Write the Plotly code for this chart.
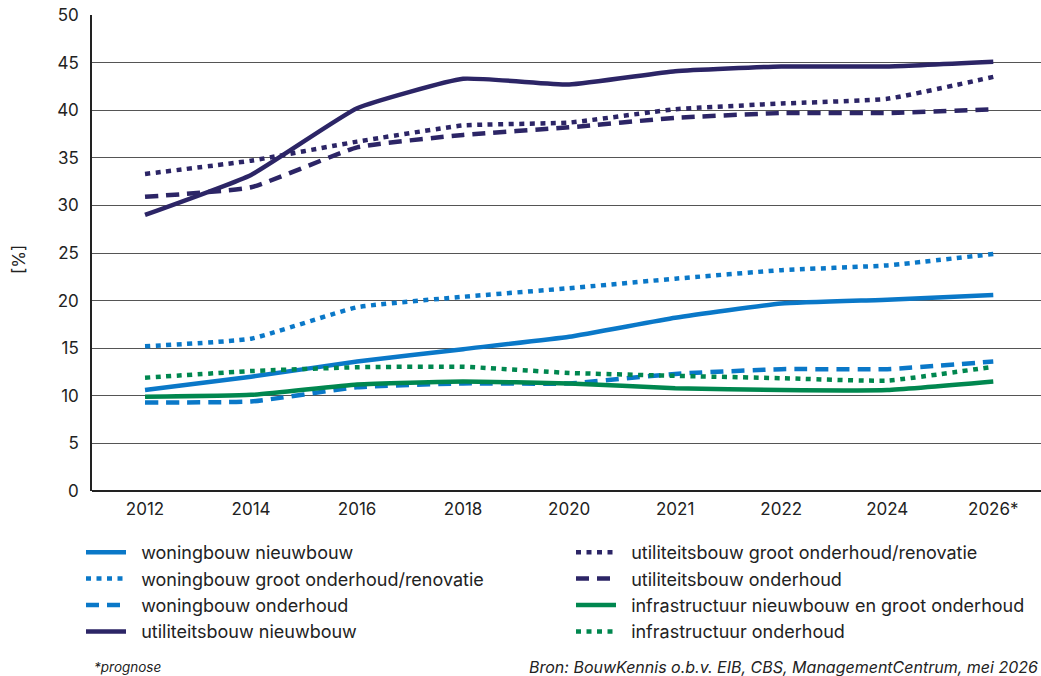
import plotly.graph_objects as go

# Jaren (2026 is een prognose)
jaren = ["2012", "2014", "2016", "2018", "2020", "2021", "2022", "2024", "2026*"]

# Aandeel per segment [%]
woningbouw_nieuwbouw = [10.6, 12.0, 13.6, 14.9, 16.2, 18.2, 19.7, 20.1, 20.6]
woningbouw_groot_onderhoud = [15.2, 16.0, 19.3, 20.4, 21.3, 22.3, 23.2, 23.7, 24.9]
woningbouw_onderhoud = [9.3, 9.4, 10.9, 11.3, 11.3, 12.3, 12.8, 12.8, 13.6]
utiliteitsbouw_nieuwbouw = [29.0, 33.2, 40.2, 43.3, 42.7, 44.1, 44.6, 44.6, 45.1]
utiliteitsbouw_groot_onderhoud = [33.3, 34.7, 36.7, 38.4, 38.7, 40.1, 40.7, 41.2, 43.5]
utiliteitsbouw_onderhoud = [30.9, 31.9, 36.1, 37.4, 38.2, 39.2, 39.7, 39.7, 40.1]
infra_nieuwbouw = [9.9, 10.1, 11.2, 11.5, 11.3, 10.8, 10.6, 10.6, 11.5]
infra_onderhoud = [11.9, 12.6, 13.0, 13.05, 12.4, 12.1, 11.85, 11.6, 13.05]

NAVY = "#2c2566"
BLUE = "#0a78c8"
GREEN = "#00874f"

DOT = "5px,5.5px"
DASH = "13px,8px"

FONT = "Inter, Arial, sans-serif"
INK = "#222222"
GAP = "\u00a0\u00a0"  # extra ruimte tussen legendasymbool en tekst

series = [
    ("woningbouw nieuwbouw", woningbouw_nieuwbouw, BLUE, "solid", "legend"),
    ("woningbouw groot onderhoud/renovatie", woningbouw_groot_onderhoud, BLUE, DOT, "legend"),
    ("woningbouw onderhoud", woningbouw_onderhoud, BLUE, DASH, "legend"),
    ("utiliteitsbouw nieuwbouw", utiliteitsbouw_nieuwbouw, NAVY, "solid", "legend"),
    ("utiliteitsbouw groot onderhoud/renovatie", utiliteitsbouw_groot_onderhoud, NAVY, DOT, "legend2"),
    ("utiliteitsbouw onderhoud", utiliteitsbouw_onderhoud, NAVY, DASH, "legend2"),
    ("infrastructuur nieuwbouw en groot onderhoud", infra_nieuwbouw, GREEN, "solid", "legend2"),
    ("infrastructuur onderhoud", infra_onderhoud, GREEN, DOT, "legend2"),
]

fig = go.Figure()
for i, (name, vals, color, dash, leg) in enumerate(series):
    fig.add_trace(go.Scatter(
        x=jaren, y=vals, name=GAP + name, mode="lines",
        line=dict(color=color, width=4.5, dash=dash, shape="spline", smoothing=0.4),
        legend=leg, legendrank=i,
    ))

legend_common = dict(
    orientation="v", xref="container", yref="container",
    xanchor="left", yanchor="top", bgcolor="rgba(0,0,0,0)",
    font=dict(family=FONT, size=18, color=INK),
    itemwidth=40, tracegroupgap=0, traceorder="normal",
)

PLOT_H = 676 - 15 - 185
PLOT_W = 1041 - 92

fig.update_layout(
    width=1041, height=676,
    margin=dict(l=92, r=0, t=15, b=185, autoexpand=False),
    paper_bgcolor="white", plot_bgcolor="white",
    font=dict(family=FONT, size=17, color=INK),
    xaxis=dict(
        type="category", range=[-0.5, 8.45],
        showgrid=False, showline=False, zeroline=False,
        ticks="", tickfont=dict(size=17, color=INK),
        ticklabelstandoff=6, tickangle=0, automargin=False,
    ),
    yaxis=dict(
        range=[0, 50], dtick=5, tick0=0,
        showgrid=True, gridcolor="#555555", gridwidth=1.2,
        showline=True, linecolor=INK, linewidth=1.5,
        zeroline=True, zerolinecolor=INK, zerolinewidth=1.5,
        ticks="", tickfont=dict(size=17, color=INK),
        ticklabelstandoff=8, automargin=False,
    ),
    legend=dict(x=81 / 1041, y=1 - 534 / 676, **legend_common),
    legend2=dict(x=571 / 1041, y=1 - 534 / 676, **legend_common),
    showlegend=True,
)

# as-titel
fig.add_annotation(
    text="[%]", xref="paper", yref="paper",
    x=(19 - 92) / PLOT_W, y=(491 - 260) / PLOT_H,
    xanchor="center", yanchor="middle", textangle=-90,
    showarrow=False, font=dict(family=FONT, size=17, color=INK),
)

FOOT_Y = -(667 - 491) / PLOT_H
fig.add_annotation(
    text="<i>*prognose</i>", xref="paper", yref="paper",
    x=0, y=FOOT_Y, xanchor="left", yanchor="middle",
    showarrow=False, font=dict(family=FONT, size=13.5, color=INK),
)
fig.add_annotation(
    text="<i>Bron: BouwKennis o.b.v. EIB, CBS, ManagementCentrum, mei 2026</i>",
    xref="paper", yref="paper",
    x=(527 - 92) / PLOT_W, y=FOOT_Y, xanchor="left", yanchor="middle",
    showarrow=False, font=dict(family=FONT, size=16, color=INK),
)

fig.write_html("out.html")
